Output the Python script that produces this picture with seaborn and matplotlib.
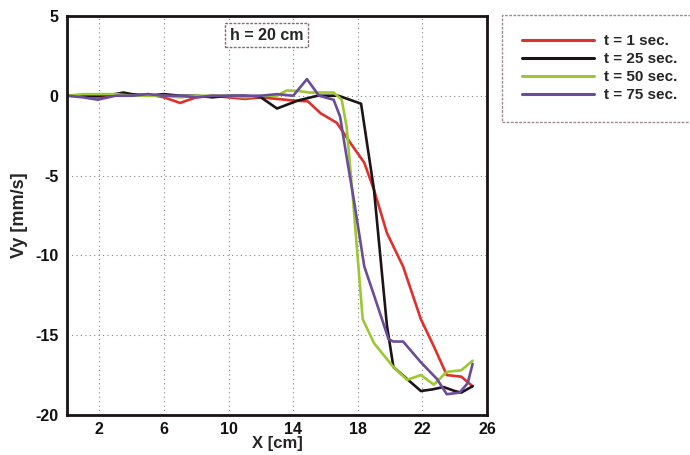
import matplotlib
matplotlib.use("Agg")
import matplotlib.pyplot as plt
from matplotlib.ticker import MultipleLocator, FixedLocator
import seaborn as sns
import pandas as pd

# ---- data ----
x_t1 = [0, 1, 2, 3, 4, 5, 6, 7, 8, 9, 10, 11, 12, 13, 14, 14.9, 15.7, 16.7, 17.5, 18.4, 19.0,
        19.8, 20.8, 21.9, 22.7, 23.5, 24.4, 25.1]
y_t1 = [0, 0, -0.1, 0.1, 0, 0.1, -0.1, -0.45, -0.1, 0, -0.1, -0.2, -0.1, -0.2, -0.3, -0.35, -1.1,
        -1.7, -2.9, -4.2, -5.9, -8.6, -10.7, -14.0, -15.7, -17.5, -17.6, -18.2]

x_t25 = [0, 1, 2, 3, 3.5, 4, 5, 6, 7, 8, 9, 10, 11, 12, 13, 14.3, 15.5, 16.8, 18.2, 19.0, 19.8,
         20.2, 21.05, 21.9, 22.6, 23.3, 24.0, 24.4, 25.1]
y_t25 = [0, 0, 0, 0.1, 0.2, 0.1, 0, 0.1, 0, 0, -0.1, 0, 0, -0.1, -0.8, -0.3, 0, 0, -0.5, -5.9,
         -14.4, -17.0, -17.75, -18.5, -18.4, -18.25, -18.5, -18.6, -18.2]

x_t50 = [0, 1, 2, 3, 4, 5, 6, 7, 8, 9, 10, 11, 12, 13, 13.6, 14.3, 15.0, 16.0, 16.5, 17.0, 17.3,
         17.7, 18.3, 19.0, 20.2, 21.05, 21.9, 22.7, 23.5, 24.4, 25.1]
y_t50 = [0, 0.1, 0.1, 0.1, 0, 0, 0, -0.1, 0, 0, 0, -0.1, 0, 0, 0.33, 0.3, 0.2, 0.2, 0.2, -0.25,
         -1.9, -6.5, -14.0, -15.5, -17.0, -17.8, -17.5, -18.1, -17.3, -17.2, -16.6]

x_t75 = [0, 1, 1.9, 3, 4, 5, 6, 7, 8, 9, 10, 11, 12, 13, 14.0, 14.85, 15.6, 16.5, 16.9, 17.3,
         17.75, 18.4, 19.0, 19.9, 20.2, 20.8, 21.9, 22.9, 23.5, 24.3, 24.8, 25.1]
y_t75 = [0, -0.1, -0.25, 0, 0, 0.1, 0, 0, -0.1, 0, 0, 0, 0, 0.1, 0, 1.04, 0, -0.25, -1.3, -3.8,
         -6.5, -10.7, -12.5, -15.25, -15.4, -15.4, -16.7, -17.75, -18.7, -18.6, -18.0, -16.8]

labels = ["t = 1 sec.", "t = 25 sec.", "t = 50 sec.", "t = 75 sec."]
colors = ["#e0302c", "#1e1418", "#9cc832", "#6a4c9a"]
x_ticks = [2, 6, 10, 14, 18, 22, 26]
y_ticks = [5, 0, -5, -10, -15, -20]

frames = []
for lab, xs, ys in zip(labels, [x_t1, x_t25, x_t50, x_t75], [y_t1, y_t25, y_t50, y_t75]):
    frames.append(pd.DataFrame({"x": xs, "y": ys, "series": lab}))
df = pd.concat(frames, ignore_index=True)

sns.set_theme(style="white")
plt.rcParams["font.family"] = ["Liberation Sans", "DejaVu Sans"]
plt.rcParams["font.weight"] = "bold"
plt.rcParams["axes.unicode_minus"] = False

fig = plt.figure(figsize=(6.9, 4.55), dpi=100)
ax = fig.add_axes([0.097, 0.088, 0.609, 0.877])

sns.lineplot(data=df, x="x", y="y", hue="series", hue_order=labels,
             palette=dict(zip(labels, colors)), estimator=None, sort=False,
             linewidth=1.9, ax=ax, legend=False)

ax.set_xlim(0, 26)
ax.set_ylim(-20, 5)
ax.xaxis.set_major_locator(FixedLocator(x_ticks))
ax.xaxis.set_minor_locator(MultipleLocator(1))
ax.yaxis.set_major_locator(FixedLocator(y_ticks))
ax.yaxis.set_minor_locator(MultipleLocator(1))
ax.tick_params(axis="both", which="major", direction="in", length=7, width=2,
               labelsize=11.5, colors="#111111")
ax.tick_params(axis="both", which="minor", direction="in", length=3, width=0.8,
               color="#333333")
ax.tick_params(axis="x", pad=5)
ax.tick_params(axis="y", pad=6)
for t in ax.get_xticklabels() + ax.get_yticklabels():
    t.set_fontweight("bold")

ax.grid(True, which="major", linestyle=(0, (1, 3)), color="#888888", linewidth=0.8)
for s in ax.spines.values():
    s.set_linewidth(2)
    s.set_color("#1a1214")

ax.set_xlabel("X [cm]", fontsize=12, fontweight="bold")
ax.xaxis.set_label_coords(0.5, -0.053)
ax.set_ylabel("Vy [mm/s]", fontsize=13, fontweight="bold", labelpad=5)

ax.text(0.476, 0.952, "h = 20 cm", transform=ax.transAxes, ha="center", va="center",
        fontsize=11.5, fontweight="bold",
        bbox=dict(boxstyle="square,pad=0.3", facecolor="white", edgecolor="#8a6a70",
                  linewidth=1.0, linestyle=(0, (2, 1))))

handles = [plt.Line2D([], [], color=c, linewidth=2.2) for c in colors]
leg = fig.legend(handles, labels, loc="upper left", bbox_to_anchor=(0.728, 0.968),
                 fontsize=11, frameon=True, fancybox=False, handlelength=4.7,
                 labelspacing=0.25, borderpad=1.3, handletextpad=0.65, borderaxespad=0)
leg.get_frame().set_edgecolor("#8a6a70")
leg.get_frame().set_linewidth(1.0)
leg.get_frame().set_linestyle((0, (2, 1)))
for t in leg.get_texts():
    t.set_fontweight("bold")

fig.savefig("out.png", dpi=100)
